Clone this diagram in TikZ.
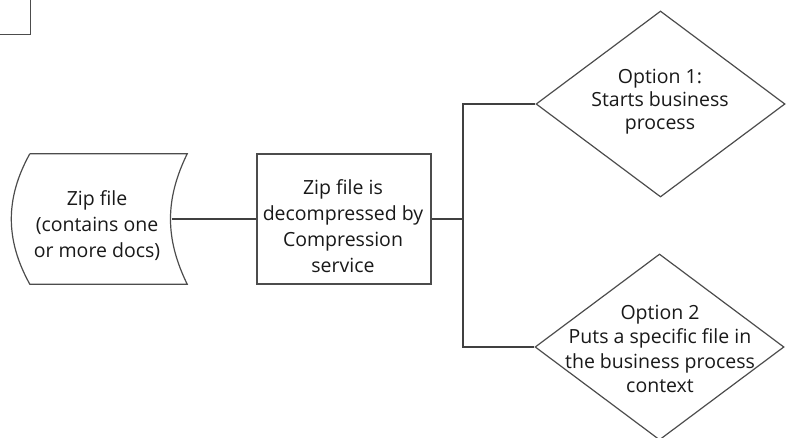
\documentclass[tikz,border=0pt]{standalone}
\usepackage{fontspec}
\setmainfont{Open Sans}
\usetikzlibrary{
    shapes.geometric,
    shadows,
    calc
}
\tikzset {
    outline/.style = {draw = black!70, line width = 1.2pt},
    link/.style = {draw = black!75, line width = 1.3pt},
    procbox/.style = {
        outline, rectangle, fill = white, inner sep = 0pt,
        drop shadow = {shadow xshift = 0.8pt, shadow yshift = -1pt, opacity = 0.35}
    },
    decision/.style = {
        outline, diamond, inner sep = 0pt,
        minimum width = 249pt, minimum height = 186pt
    },
    caption/.style = {
        align = center, inner sep = 0pt, text = black!90,
        font = \fontsize{19.5}{26}\selectfont
    },
}

\begin{document}
\begin{tikzpicture}[x = 1pt, y = -1pt]
    \useasboundingbox (0, 0) rectangle (786, 438);
    % box cut off at the top left
    \node (prev) [procbox, minimum width = 80pt, minimum height = 70pt, anchor = south east] at (31, 35) {};
    % zip file
    \node (zip) [minimum width = 157pt, minimum height = 130pt, inner sep = 0pt] at (108.5, 219) {};
    \draw [outline] (zip.north west) -- (zip.north east)
        to [bend right = 26] (zip.south east)
        -- (zip.south west)
        to [bend left = 29] (zip.north west);
    \coordinate (zipout) at ($(zip.east) + (-15, 0)$);
    \node (ziptxt) [caption] at (97, 226) {Zip file\\(contains one\\or more docs)};
    % decompression
    \node (proc) [procbox, minimum width = 174pt, minimum height = 130pt] at (344, 219) {};
    \node (proctxt) [caption] at (343, 226) {Zip file is\\decompressed by\\Compression\\service};
    % options
    \node (opt1) [decision] at (660.5, 104) {};
    \node (opt1txt) [caption, font = \fontsize{19.5}{23}\selectfont] at (660, 102) {Option 1:\\Starts business\\process};
    \node (opt2) [decision] at (659.5, 347) {};
    \node (opt2txt) [caption, font = \fontsize{19.5}{24.5}\selectfont] at (660, 349) {Option 2\\Puts a specific file in\\the business process\\context};
    % connectors
    \coordinate (split) at (463, 219);
    \draw [link] (zipout) -- (proc.west);
    \draw [link] (proc.east) -- (split);
    \draw [link] (opt1.west) -| (split) |- (opt2.west);
\end{tikzpicture}
\end{document}
